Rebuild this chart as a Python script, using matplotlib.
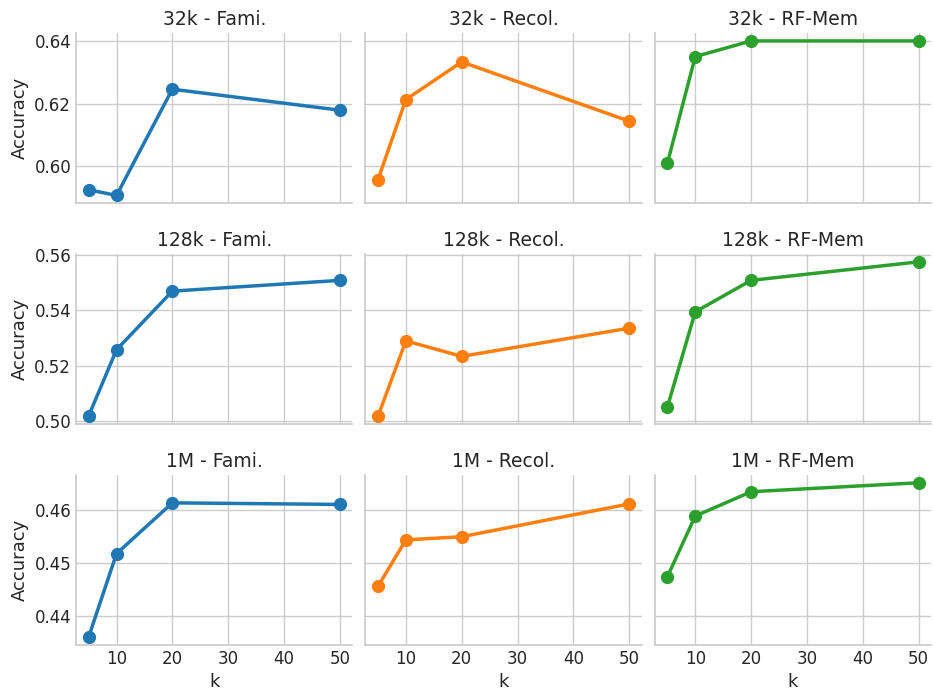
import matplotlib
matplotlib.use('Agg')
import matplotlib.pyplot as plt
import seaborn as sns

# accuracy vs k for each index size and task
ks = [5, 10, 20, 50]
sizes = ['32k', '128k', '1M']
tasks = ['Fami.', 'Recol.', 'RF-Mem']

acc_32k_fami = [0.5925, 0.5907, 0.6246, 0.6179]
acc_32k_recol = [0.5957, 0.6213, 0.6333, 0.6144]
acc_32k_rfmem = [0.6009, 0.6350, 0.6400, 0.6400]

acc_128k_fami = [0.5018, 0.5258, 0.5470, 0.5509]
acc_128k_recol = [0.5017, 0.5290, 0.5234, 0.5336]
acc_128k_rfmem = [0.5050, 0.5395, 0.5509, 0.5576]

acc_1m_fami = [0.4360, 0.4518, 0.4614, 0.4611]
acc_1m_recol = [0.4456, 0.4544, 0.4550, 0.4612]
acc_1m_rfmem = [0.4474, 0.4589, 0.4635, 0.4652]

results = [
    [acc_32k_fami, acc_32k_recol, acc_32k_rfmem],
    [acc_128k_fami, acc_128k_recol, acc_128k_rfmem],
    [acc_1m_fami, acc_1m_recol, acc_1m_rfmem],
]

colors = ['#1f77b4', '#ff7f0e', '#2ca02c']

sns.set_theme(style='whitegrid')
plt.rcParams['font.family'] = ['DejaVu Sans']

fig, axes = plt.subplots(3, 3, figsize=(9.33, 6.92), dpi=100, sharex=True, sharey='row')
fig.subplots_adjust(left=0.0815, right=0.998, top=0.952, bottom=0.068,
                    wspace=0.047, hspace=0.30)

for i, size in enumerate(sizes):
    for j, task in enumerate(tasks):
        ax = axes[i][j]
        ax.plot(ks, results[i][j], color=colors[j], marker='o',
                markersize=8.5, linewidth=2.5)
        ax.set_title(size + ' - ' + task, fontsize=13.5)
        ax.tick_params(labelsize=12, length=0)
        sns.despine(ax=ax)
        if j == 0:
            ax.set_ylabel('Accuracy', fontsize=13)
        if i == 2:
            ax.set_xlabel('k', fontsize=13)
        ax.set_xticks([10, 20, 30, 40, 50])

axes[0][0].set_yticks([0.60, 0.62, 0.64])
axes[1][0].set_yticks([0.50, 0.52, 0.54, 0.56])
axes[2][0].set_yticks([0.44, 0.45, 0.46])
for ax in axes[:, 0]:
    ax.yaxis.set_major_formatter(matplotlib.ticker.FormatStrFormatter('%.2f'))

plt.savefig('out.png')
